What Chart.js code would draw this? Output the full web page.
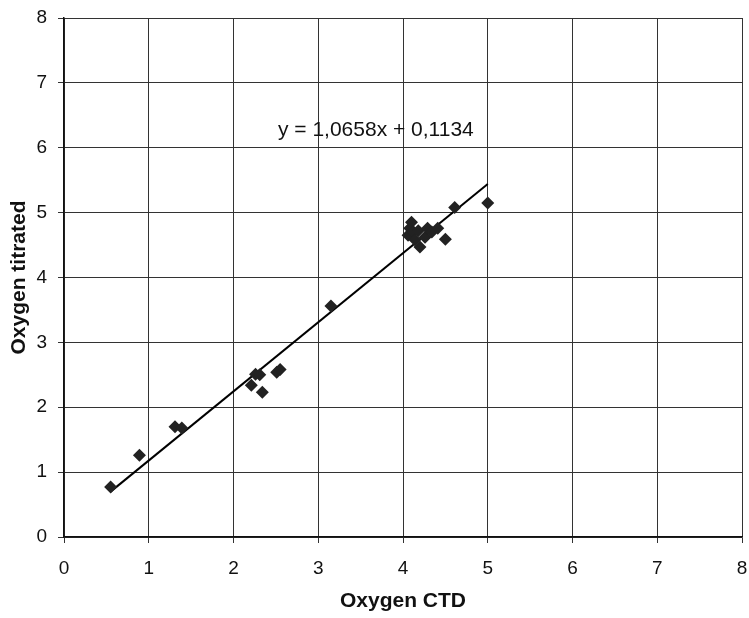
<!DOCTYPE html>
<html>
<head>
<meta charset="utf-8">
<script src="https://cdn.jsdelivr.net/npm/chart.js@4.4.1/dist/chart.umd.min.js"></script>
<style>
  html, body { margin: 0; padding: 0; background: #fff; }
  #wrap { width: 749px; height: 618px; }
</style>
</head>
<body>
<div id="wrap"><canvas id="chart" width="749" height="618"></canvas></div>
<script>
// Oxygen measured by CTD sensor vs. titrated samples
const ctdValues = [0.55, 0.89, 1.31, 1.39, 2.21, 2.26, 2.31, 2.34, 2.51, 2.55, 3.15,
  4.06, 4.08, 4.10, 4.12, 4.14, 4.18, 4.20, 4.26, 4.29, 4.34, 4.41, 4.50, 4.61, 5.00];
const titratedValues = [0.77, 1.26, 1.70, 1.68, 2.34, 2.51, 2.50, 2.23, 2.54, 2.58, 3.56,
  4.65, 4.76, 4.85, 4.70, 4.58, 4.72, 4.47, 4.62, 4.76, 4.70, 4.76, 4.59, 5.08, 5.15];

// Linear fit shown on the chart
const slope = 1.0658;
const intercept = 0.1134;
const fitLabel = "y = 1,0658x + 0,1134";

const axisTicks = [0, 1, 2, 3, 4, 5, 6, 7, 8];

const points = ctdValues.map((x, i) => ({ x: x, y: titratedValues[i] }));
const xMin = Math.min(...ctdValues);
const xMax = Math.max(...ctdValues);
const fitLine = [
  { x: xMin, y: slope * xMin + intercept },
  { x: xMax, y: slope * xMax + intercept },
];

const fontFamily = "'Liberation Sans', Arial, sans-serif";

// Draws the fit equation inside the plot
const equationLabel = {
  id: "equationLabel",
  afterDatasetsDraw(chart) {
    const ctx = chart.ctx;
    const xs = chart.scales.x;
    const ys = chart.scales.y;
    ctx.save();
    ctx.font = "21px " + fontFamily;
    ctx.fillStyle = "#111";
    ctx.textAlign = "center";
    ctx.textBaseline = "middle";
    ctx.fillText(fitLabel, xs.getPixelForValue(3.68), ys.getPixelForValue(6.27));
    ctx.restore();
  },
};

new Chart(document.getElementById("chart").getContext("2d"), {
  type: "scatter",
  data: {
    datasets: [
      {
        label: "Samples",
        data: points,
        pointStyle: "rectRot",
        pointRadius: 6.5,
        backgroundColor: "#222",
        borderColor: "#222",
        borderWidth: 0,
      },
      {
        label: "Fit",
        type: "line",
        data: fitLine,
        borderColor: "#000",
        borderWidth: 2,
        pointRadius: 0,
        fill: false,
      },
    ],
  },
  options: {
    responsive: false,
    animation: false,
    layout: { padding: { top: 18, right: 7, left: 0, bottom: 0 } },
    plugins: {
      legend: { display: false },
      tooltip: { enabled: false },
    },
    scales: {
      x: {
        type: "linear",
        min: 0,
        max: 8,
        afterBuildTicks: (scale) => {
          scale.ticks = axisTicks.map((v) => ({ value: v }));
        },
        afterFit: (scale) => {
          scale.height = 81;
          scale.paddingLeft = 0;
          scale.paddingRight = 0;
        },
        grid: { color: "#333", lineWidth: 1, tickLength: 6 },
        border: { color: "#111", width: 1.5 },
        ticks: { color: "#111", font: { size: 19, family: fontFamily }, padding: 14 },
        title: {
          display: true,
          text: "Oxygen CTD",
          color: "#111",
          font: { size: 21, weight: "bold", family: fontFamily },
          padding: { top: 3 },
        },
      },
      y: {
        type: "linear",
        min: 0,
        max: 8,
        afterBuildTicks: (scale) => {
          scale.ticks = axisTicks.map((v) => ({ value: v }));
        },
        afterFit: (scale) => {
          scale.width = 64;
          scale.paddingTop = 0;
          scale.paddingBottom = 0;
        },
        grid: { color: "#333", lineWidth: 1, tickLength: 6 },
        border: { color: "#111", width: 1.5 },
        ticks: { color: "#111", font: { size: 19, family: fontFamily }, padding: 11 },
        title: {
          display: true,
          text: "Oxygen titrated",
          color: "#111",
          font: { size: 21, weight: "bold", family: fontFamily },
          padding: { top: 7 },
        },
      },
    },
  },
  plugins: [equationLabel],
});
</script>
</body>
</html>
